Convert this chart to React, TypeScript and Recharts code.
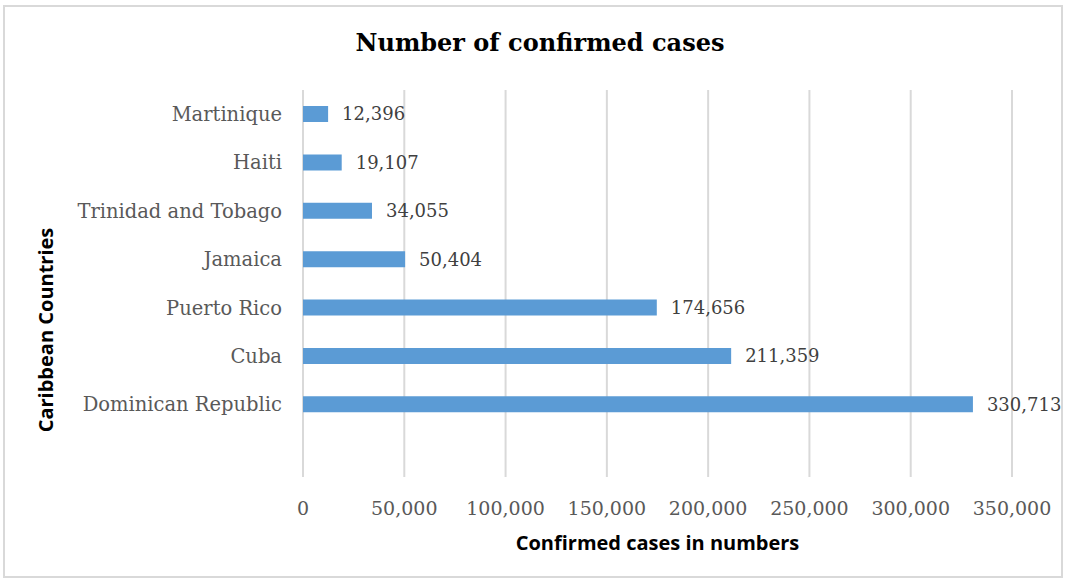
import React from 'react';
import { BarChart, Bar, XAxis, YAxis, CartesianGrid, LabelList } from 'recharts';

const countries = [
  'Martinique',
  'Haiti',
  'Trinidad and Tobago',
  'Jamaica',
  'Puerto Rico',
  'Cuba',
  'Dominican Republic',
  '',
];
const confirmed = [12396, 19107, 34055, 50404, 174656, 211359, 330713, null];
const xTicks = [0, 50000, 100000, 150000, 200000, 250000, 300000, 350000];

const data = countries.map((name, i) => ({ name, cases: confirmed[i] }));

const serif = '"DejaVu Serif", serif';
const sans = '"Open Sans", sans-serif';

const fmt = (v: any) => (v == null ? '' : Number(v).toLocaleString('en-US'));

const App: React.FC = () => {
  return (
    <div style={{ position: 'absolute', left: 0, top: 0, width: 1067, height: 583, background: '#fff' }}>
      <div
        style={{
          position: 'absolute',
          left: 3,
          top: 5,
          width: 1060,
          height: 573,
          border: '2px solid #d9d9d9',
          boxSizing: 'border-box',
        }}
      />
      <div
        style={{
          position: 'absolute',
          left: 0,
          width: 1080,
          top: 28,
          textAlign: 'center',
          fontFamily: serif,
          fontWeight: 'bold',
          fontSize: 24,
          color: '#000',
        }}
      >
        Number of confirmed cases
      </div>
      <div
        style={{
          position: 'absolute',
          left: 45,
          top: 330,
          transform: 'translate(-50%, -50%) rotate(-90deg)',
          whiteSpace: 'nowrap',
          fontFamily: sans,
          fontWeight: 'bold',
          fontSize: 20,
          color: '#000',
        }}
      >
        Caribbean Countries
      </div>
      <div style={{ position: 'absolute', left: 0, top: 0 }}>
        <BarChart
          width={1067}
          height={583}
          data={data}
          layout="vertical"
          margin={{ top: 90, right: 55, bottom: 0, left: 0 }}
        >
          <CartesianGrid horizontal={false} stroke="#d9d9d9" strokeWidth={2} />
          <XAxis
            type="number"
            domain={[0, 350000]}
            ticks={xTicks}
            tickFormatter={fmt}
            axisLine={false}
            tickLine={false}
            tickSize={0}
            tickMargin={25}
            interval={0}
            height={106}
            tick={{ fill: '#595959', fontFamily: serif, fontSize: 19 }}
            label={{
              value: 'Confirmed cases in numbers',
              position: 'insideBottom',
              offset: 33,
              fill: '#000',
              fontFamily: sans,
              fontWeight: 'bold',
              fontSize: 20,
            }}
          />
          <YAxis
            type="category"
            dataKey="name"
            width={303}
            axisLine={false}
            tickLine={false}
            tickSize={0}
            tickMargin={21}
            interval={0}
            tick={{ fill: '#595959', fontFamily: serif, fontSize: 19.5 }}
          />
          <Bar dataKey="cases" fill="#5b9bd5" barSize={16} isAnimationActive={false}>
            <LabelList
              dataKey="cases"
              position="right"
              offset={14}
              formatter={fmt}
              fill="#404040"
              fontFamily={serif}
              fontSize={18}
            />
          </Bar>
        </BarChart>
      </div>
    </div>
  );
};

export default App;
